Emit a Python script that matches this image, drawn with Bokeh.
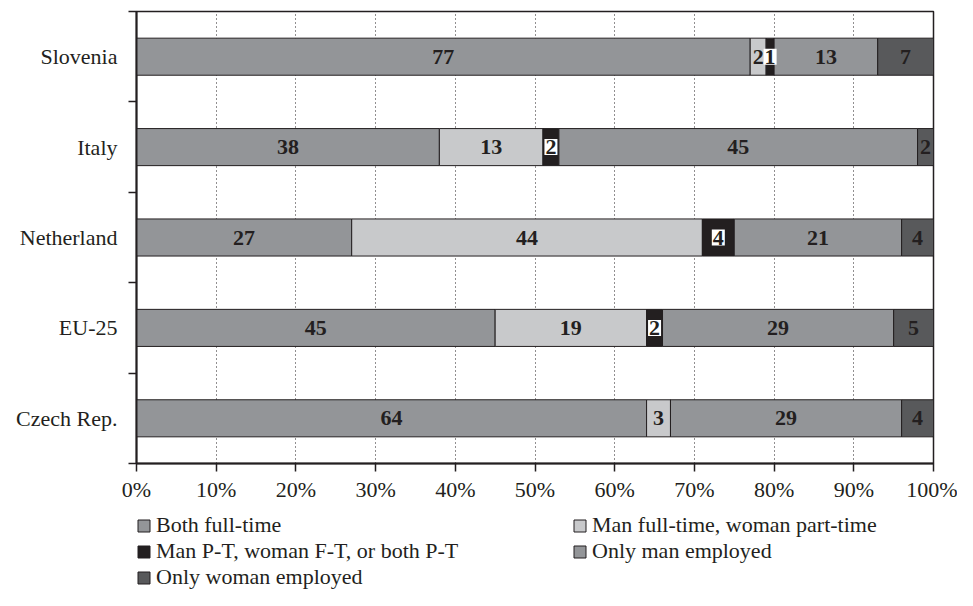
from bokeh.plotting import figure
from bokeh.layouts import column
from bokeh.models import ColumnDataSource, Range1d, FixedTicker, Legend, LegendItem
from bokeh.core.properties import value
from bokeh.embed import file_html
from bokeh.resources import INLINE

countries = ["Slovenia", "Italy", "Netherland", "EU-25", "Czech Rep."]
series = ["Both full-time", "Man full-time, woman part-time",
          "Man P-T, woman F-T, or both P-T", "Only man employed",
          "Only woman employed"]
both_ft = [77, 38, 27, 45, 64]
man_ft_woman_pt = [2, 13, 44, 19, 3]
pt_other = [1, 2, 4, 2, 0]
only_man = [13, 45, 21, 29, 29]
only_woman = [7, 2, 4, 5, 4]
x_ticks = [0, 10, 20, 30, 40, 50, 60, 70, 80, 90, 100]
x_tick_labels = ["0%", "10%", "20%", "30%", "40%", "50%", "60%", "70%", "80%", "90%", "100%"]

colors = ["#939598", "#c8c9cb", "#231f20", "#939598", "#58595b"]
INK = "#231f20"
FONT = "Liberation Serif"

values = [both_ft, man_ft_woman_pt, pt_other, only_man, only_woman]
keys = ["s0", "s1", "s2", "s3", "s4"]
n = len(countries)
ypos = [n - i - 0.5 for i in range(n)]

data = {"y": ypos, "country": countries}
for k, v in zip(keys, values):
    data[k] = v
src = ColumnDataSource(data)

p = figure(width=957, height=504, output_backend="svg", toolbar_location=None,
           x_range=Range1d(0, 100), y_range=Range1d(0, n),
           min_border_left=136, min_border_right=24, min_border_top=11,
           min_border_bottom=41)

p.xgrid.ticker = FixedTicker(ticks=x_ticks[1:-1])
p.xgrid.grid_line_color = INK
p.xgrid.grid_line_dash = "1 3"
p.xgrid.grid_line_width = 1
p.ygrid.grid_line_color = None
p.outline_line_color = INK
p.outline_line_width = 1.5
p.background_fill_color = "white"

renderers = p.hbar_stack(keys, y="y", height=0.41, source=src,
                         fill_color=colors, line_color=INK, line_width=1)

# segment labels
plain = {"x": [], "y": [], "t": []}
boxed = {"x": [], "y": [], "t": []}
for i in range(n):
    left = 0
    for j, v in enumerate(values):
        val = v[i]
        if val > 0:
            target = boxed if j == 2 else plain
            target["x"].append(left + val / 2)
            target["y"].append(ypos[i])
            target["t"].append(str(val))
        left += val

p.text(x="x", y="y", text="t", source=ColumnDataSource(plain),
       text_align="center", text_baseline="middle", text_font=value(FONT),
       text_font_style="bold", text_font_size="22px", text_color=INK)
p.text(x="x", y="y", text="t", source=ColumnDataSource(boxed),
       text_align="center", text_baseline="middle", text_font=value(FONT),
       text_font_style="bold", text_font_size="22px", text_color=INK,
       background_fill_color="white", padding=1)

# axes
p.xaxis.ticker = FixedTicker(ticks=x_ticks)
p.xaxis.major_label_overrides = {t: l for t, l in zip(x_ticks, x_tick_labels)}
p.xaxis.major_tick_in = 0
p.xaxis.major_tick_out = 8
p.xaxis.minor_tick_line_color = None
p.xaxis.axis_line_color = INK
p.xaxis.axis_line_width = 2
p.xaxis.major_tick_line_color = INK
p.xaxis.major_tick_line_width = 1.5
p.xaxis.major_label_text_font = FONT
p.xaxis.major_label_text_font_size = "22px"
p.xaxis.major_label_text_color = INK
p.xaxis.major_label_standoff = 5

p.yaxis.ticker = FixedTicker(ticks=ypos, minor_ticks=list(range(n + 1)))
p.yaxis.major_label_overrides = {y: c for y, c in zip(ypos, countries)}
p.yaxis.major_tick_line_color = None
p.yaxis.major_tick_in = 0
p.yaxis.major_tick_out = 0
p.yaxis.minor_tick_in = 0
p.yaxis.minor_tick_out = 8
p.yaxis.minor_tick_line_color = INK
p.yaxis.minor_tick_line_width = 1.5
p.yaxis.axis_line_color = INK
p.yaxis.axis_line_width = 2
p.yaxis.major_label_text_font = FONT
p.yaxis.major_label_text_font_size = "22px"
p.yaxis.major_label_text_color = INK
p.yaxis.major_label_standoff = 11

# legend panel (separate figure below the chart; frame aligned with chart)
lf = figure(width=957, height=86, output_backend="svg", toolbar_location=None,
            x_range=Range1d(0, 1), y_range=Range1d(0, 1),
            x_axis_type=None, y_axis_type=None, min_border=0,
            outline_line_color=None)
lf.grid.grid_line_color = None
# swatch renderers: one off-screen bar each, used only for legend glyphs
swatch_src = ColumnDataSource(dict(y=[-5], right=[0]))
swatches = []
for c in colors:
    swatches.append(lf.hbar(y="y", right="right", height=0.1, source=swatch_src,
                            fill_color=c, line_color=INK, line_width=1))

legend_style = dict(margin=0, padding=0, spacing=0, glyph_width=15, glyph_height=15,
                    label_standoff=5, label_text_font=FONT, label_text_font_size="22px",
                    label_text_color=INK, border_line_color=None,
                    background_fill_alpha=0, label_height=22)
col1 = [0, 2, 4]
col2 = [1, 3]
leg1 = Legend(items=[LegendItem(label=series[k], renderers=[swatches[k]]) for k in col1],
              location=(0, 0), **legend_style)
leg2 = Legend(items=[LegendItem(label=series[k], renderers=[swatches[k]]) for k in col2],
              location=(436, 26), **legend_style)
lf.add_layout(leg1, "center")
lf.add_layout(leg2, "center")

layout = column(p, lf, spacing=0)
open("out.html", "w").write(file_html(layout, INLINE))
